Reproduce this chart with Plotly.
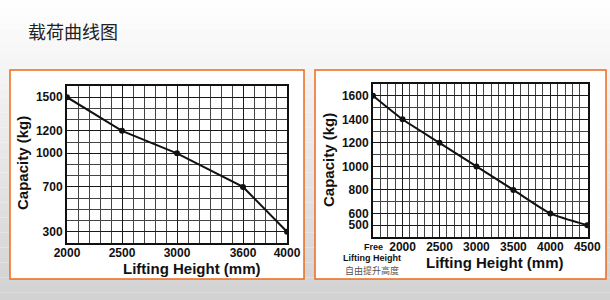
import plotly.graph_objects as go

# ---- data ----
title_text = "载荷曲线图"
left_height = [2000, 2500, 3000, 3600, 4000]
left_capacity = [1500, 1200, 1000, 700, 300]
left_xticks = [2000, 2500, 3000, 3600, 4000]
left_yticks = [300, 700, 1000, 1200, 1500]

right_height = [1600, 2000, 2500, 3000, 3500, 4000, 4500]
right_capacity = [1600, 1400, 1200, 1000, 800, 600, 500]
right_xticks = [2000, 2500, 3000, 3500, 4000, 4500]
right_yticks = [500, 600, 800, 1000, 1200, 1400, 1600]
free_label = ["Free", "Lifting Height", "自由提升高度"]
x_title = "Lifting Height (mm)"
y_title = "Capacity (kg)"

W, H = 610, 300
def px(x): return x / W
def py(y): return 1 - y / H

fig = go.Figure()

TICKFONT = dict(family="Liberation Sans, Arial, sans-serif", size=12, color="#111", weight="bold")
TITLEFONT = dict(family="Liberation Sans, Arial, sans-serif", size=15, color="#111", weight="bold")

fig.add_trace(go.Scatter(x=left_height, y=left_capacity, mode="lines+markers",
                         line=dict(color="#111", width=2), marker=dict(color="#111", size=6),
                         xaxis="x", yaxis="y", showlegend=False, hoverinfo="skip"))
fig.add_trace(go.Scatter(x=right_height, y=right_capacity, mode="lines+markers",
                         line=dict(color="#111", width=2, shape="spline", smoothing=0.6),
                         marker=dict(color="#111", size=6),
                         xaxis="x2", yaxis="y2", showlegend=False, hoverinfo="skip"))

def axis(dom, rng, tickvals, anchor, standoff=0):
    return dict(domain=dom, range=rng, tickvals=tickvals, ticks="", anchor=anchor,
                showline=True, linecolor="#111", linewidth=2, mirror=True,
                showgrid=True, gridcolor="#1a1a1a", gridwidth=1.4,
                minor=dict(dtick=100, showgrid=True, gridcolor="#444", gridwidth=1, ticks=""),
                zeroline=False, tickfont=TICKFONT, fixedrange=True, automargin=False,
                ticklabelstandoff=standoff)

fig.update_layout(
    width=W, height=H, autosize=False,
    margin=dict(l=0, r=0, t=0, b=0, pad=0, autoexpand=False),
    paper_bgcolor="#ffffff", plot_bgcolor="rgba(0,0,0,0)",
    xaxis=axis([px(67), px(287)], [2000, 4000], left_xticks, "y", -2),
    yaxis=axis([py(243), py(86)], [200, 1600], left_yticks, "x"),
    xaxis2=axis([px(373), px(588)], [1600, 4510], right_xticks, "y2", -2),
    yaxis2=axis([py(237), py(84)], [400, 1700], right_yticks, "x2"),
)

shapes = []
# background gradient (decorative)
N = 40
for i in range(N):
    y0 = H * i / N
    y1 = H * (i + 1) / N
    t = (i + 0.5) / N
    g = int(255 - (255 - 210) * t)
    shapes.append(dict(type="rect", xref="paper", yref="paper", x0=0, x1=1,
                       y0=py(y1), y1=py(y0), fillcolor=f"rgb({g},{g},{g})",
                       line=dict(width=0), layer="below"))
# panels
for x0, x1 in [(10, 304), (315, 606)]:
    shapes.append(dict(type="rect", xref="paper", yref="paper", x0=px(x0), x1=px(x1),
                       y0=py(279), y1=py(70), fillcolor="#ffffff",
                       line=dict(color="#f06a1a", width=1.5), layer="below"))
fig.update_layout(shapes=shapes)

ann = []
def add(text, x, y, font, xref="paper", xshift=0, angle=0, xanchor="center"):
    ann.append(dict(text=text, x=x, y=y, xref=xref, yref="paper", xanchor=xanchor,
                    yanchor="middle", showarrow=False, textangle=angle, xshift=xshift,
                    font=font))

add(title_text, px(26), py(31), dict(family="Noto Sans CJK SC", size=18, color="#222"), xanchor="left")
# axis titles
add(x_title, px(191), py(268), TITLEFONT)
add(y_title, px(22), py(163), TITLEFONT, angle=-90)
add(x_title, px(494), py(262), TITLEFONT)
add(y_title, px(328), py(160), TITLEFONT, angle=-90)
# free lifting height label
add(free_label[0], right_height[0], py(247),
    dict(family="Liberation Sans, Arial", size=9, color="#111", weight="bold"), xref="x2", xshift=1)
add(free_label[1], right_height[0], py(257.5),
    dict(family="Liberation Sans Narrow, Liberation Sans, Arial", size=9, color="#111", weight="bold"),
    xref="x2", xshift=-1)
add(free_label[2], right_height[0], py(270),
    dict(family="Noto Sans CJK SC", size=9, color="#555"), xref="x2", xshift=-1)
fig.update_layout(annotations=ann)

fig.write_html("out.html")
